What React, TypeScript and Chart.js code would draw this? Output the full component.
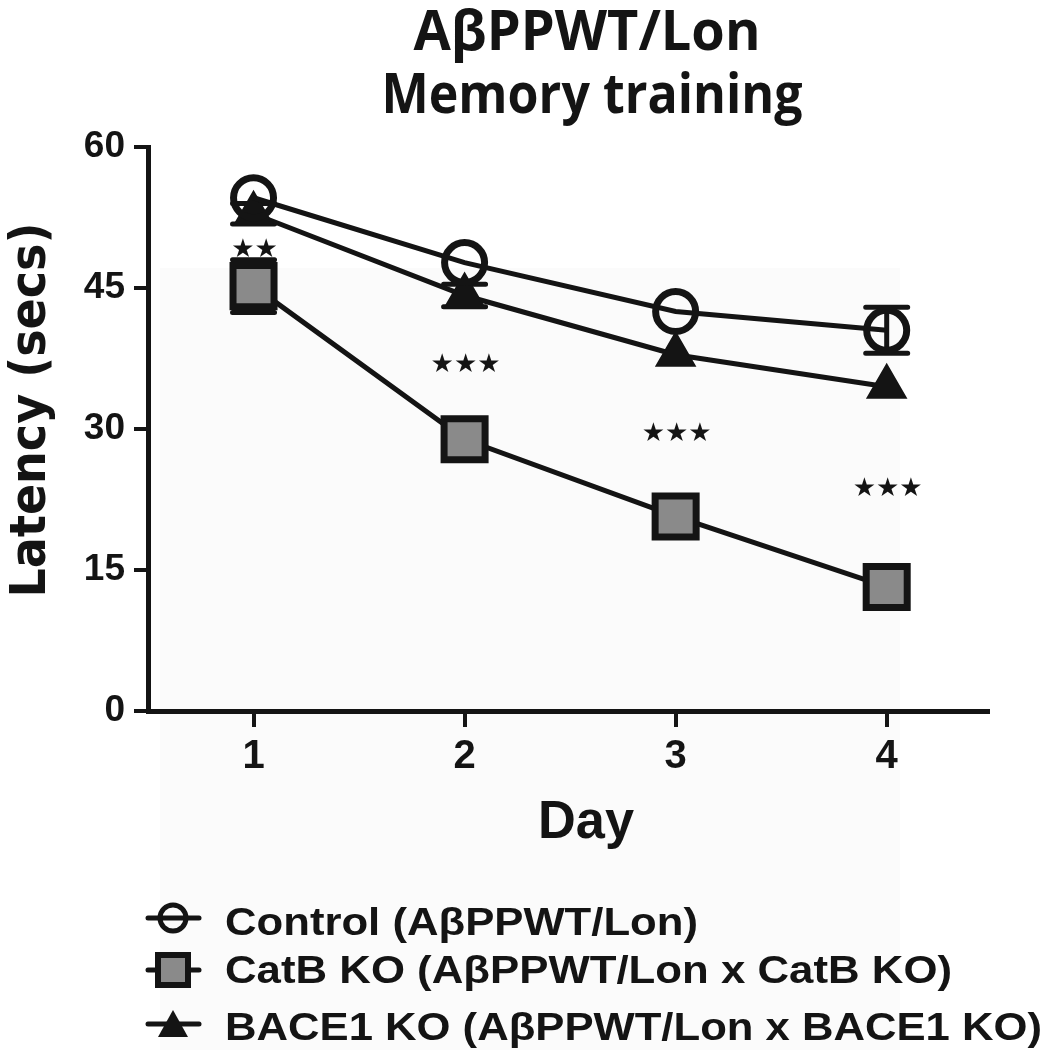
import React, { useEffect, useRef } from 'react';
import { Chart, registerables } from 'chart.js';

Chart.register(...registerables);

const days = [1, 2, 3, 4];
const dayTickLabels = ['1', '2', '3', '4'];
const yTickValues = [0, 15, 30, 45, 60];

const controlMean = [54.6, 47.7, 42.5, 40.5];
const controlErr = [0, 0, 0, 2.45];
const catbMean = [45.2, 28.9, 20.7, 13.2];
const catbErr = [2.8, 0, 0, 0];
const baceMean = [52.9, 44.2, 37.9, 34.5];
const baceErr = [1.1, 1.2, 0, 0];

const sigLabels = ['★★', '★★★', '★★★', '★★★'];
const sigY = [49.0, 36.8, 29.4, 23.6];

const titleLines = ['AβPPWT/Lon', 'Memory training'];
const xTitle = 'Day';
const yTitle = 'Latency (secs)';
const legendLabels = [
  'Control (AβPPWT/Lon)',
  'CatB KO (AβPPWT/Lon x CatB KO)',
  'BACE1 KO (AβPPWT/Lon x BACE1 KO)',
];

const INK = '#141414';
const GREY = '#8a8a8a';

function fitText(
  ctx: CanvasRenderingContext2D,
  text: string,
  x: number,
  y: number,
  width: number,
  font: string,
  align: CanvasTextAlign
) {
  ctx.save();
  ctx.font = font;
  const w = ctx.measureText(text).width;
  const s = width / w;
  ctx.translate(x, y);
  ctx.scale(s, 1);
  ctx.textAlign = align;
  ctx.textBaseline = 'alphabetic';
  ctx.fillStyle = INK;
  ctx.fillText(text, 0, 0);
  ctx.restore();
}

const bgPlugin = {
  id: 'bgPlugin',
  beforeDraw(chart: any) {
    const ctx = chart.ctx as CanvasRenderingContext2D;
    ctx.save();
    ctx.fillStyle = '#ffffff';
    ctx.fillRect(0, 0, chart.width, chart.height);
    ctx.fillStyle = '#fbfbfb';
    ctx.fillRect(160, 268, 740, 800);
    ctx.restore();
  },
};

const errorBarPlugin = {
  id: 'errorBarPlugin',
  beforeDatasetsDraw(chart: any) {
    const ctx = chart.ctx as CanvasRenderingContext2D;
    const xs = chart.scales.x;
    const ys = chart.scales.y;
    const sets = [
      [controlMean, controlErr],
      [catbMean, catbErr],
      [baceMean, baceErr],
    ];
    ctx.save();
    ctx.strokeStyle = INK;
    ctx.lineWidth = 5;
    ctx.lineCap = 'round';
    sets.forEach(([m, e]) => {
      m.forEach((v, i) => {
        if (!e[i]) return;
        const x = xs.getPixelForValue(days[i]);
        const yt = ys.getPixelForValue(v + e[i]);
        const yb = ys.getPixelForValue(v - e[i]);
        ctx.beginPath();
        ctx.moveTo(x, yt);
        ctx.lineTo(x, yb);
        ctx.moveTo(x - 21, yt);
        ctx.lineTo(x + 21, yt);
        ctx.moveTo(x - 21, yb);
        ctx.lineTo(x + 21, yb);
        ctx.stroke();
      });
    });
    ctx.restore();
  },
};

const annotatePlugin = {
  id: 'annotatePlugin',
  afterDraw(chart: any) {
    const ctx = chart.ctx as CanvasRenderingContext2D;
    const xs = chart.scales.x;
    const ys = chart.scales.y;

    // significance stars
    ctx.save();
    ctx.fillStyle = INK;
    ctx.font = '26px "DejaVu Sans"';
    ctx.textAlign = 'center';
    ctx.textBaseline = 'middle';
    sigLabels.forEach((s, i) => {
      const x = xs.getPixelForValue(days[i]);
      const y = ys.getPixelForValue(sigY[i]);
      ctx.fillText(s, x + 1, y);
    });
    ctx.restore();

    // title
    fitText(ctx, titleLines[0], 587, 50, 347, 'bold 55px "Open Sans"', 'center');
    fitText(ctx, titleLines[1], 592, 113, 421, 'bold 55px "Open Sans"', 'center');

    // x title
    fitText(ctx, xTitle, 586, 838, 96, 'bold 53px "Liberation Sans"', 'center');

    // y title
    ctx.save();
    ctx.translate(45, 410);
    ctx.rotate(-Math.PI / 2);
    fitText(ctx, yTitle, 0, 0, 375, 'bold 50px "DejaVu Sans"', 'center');
    ctx.restore();

    // legend
    const rowsY = [935, 983, 1040];
    const widths = [473, 727, 817];
    legendLabels.forEach((lab, i) => {
      fitText(ctx, lab, 225, rowsY[i], widths[i], 'bold 39px "Liberation Sans"', 'left');
    });
    ctx.save();
    ctx.strokeStyle = INK;
    ctx.lineWidth = 5;
    ctx.lineCap = 'round';
    // row 1: circle with line
    ctx.beginPath();
    ctx.moveTo(148, 918);
    ctx.lineTo(199, 918);
    ctx.stroke();
    ctx.beginPath();
    ctx.arc(173, 918, 13, 0, Math.PI * 2);
    ctx.stroke();
    // row 2: square
    ctx.beginPath();
    ctx.moveTo(148, 970);
    ctx.lineTo(199, 970);
    ctx.stroke();
    ctx.fillStyle = GREY;
    ctx.lineWidth = 6;
    ctx.beginPath();
    ctx.rect(158, 955, 30, 30);
    ctx.fill();
    ctx.stroke();
    // row 3: triangle with line
    ctx.lineWidth = 5;
    ctx.beginPath();
    ctx.moveTo(148, 1024);
    ctx.lineTo(199, 1024);
    ctx.stroke();
    ctx.fillStyle = INK;
    ctx.beginPath();
    ctx.moveTo(173, 1010);
    ctx.lineTo(188, 1037);
    ctx.lineTo(158, 1037);
    ctx.closePath();
    ctx.fill();
    ctx.restore();
  },
};

export default function App() {
  const canvasRef = useRef<HTMLCanvasElement | null>(null);

  useEffect(() => {
    if (!canvasRef.current) return;
    const toPts = (arr: number[]) => arr.map((v, i) => ({ x: days[i], y: v }));
    const chart = new Chart(canvasRef.current, {
      type: 'line',
      data: {
        datasets: [
          {
            label: legendLabels[0],
            data: toPts(controlMean),
            borderColor: INK,
            borderWidth: 5,
            pointStyle: 'circle',
            pointRadius: 20,
            pointBorderWidth: 7,
            pointBackgroundColor: 'rgba(0,0,0,0)',
            pointBorderColor: INK,
            tension: 0,
          },
          {
            label: legendLabels[1],
            data: toPts(catbMean),
            borderColor: INK,
            borderWidth: 5,
            pointStyle: 'rect',
            pointRadius: 29,
            pointBorderWidth: 7,
            pointBackgroundColor: GREY,
            pointBorderColor: INK,
            tension: 0,
          },
          {
            label: legendLabels[2],
            data: toPts(baceMean),
            borderColor: INK,
            borderWidth: 5,
            pointStyle: 'triangle',
            pointRadius: 22,
            pointBorderWidth: 2,
            pointBackgroundColor: INK,
            pointBorderColor: INK,
            tension: 0,
          },
        ],
      },
      options: {
        responsive: false,
        animation: false,
        layout: { padding: { top: 147, right: 55, left: 0, bottom: 0 } },
        plugins: {
          legend: { display: false },
          title: { display: false },
          tooltip: { enabled: false },
        },
        scales: {
          x: {
            type: 'linear',
            min: 0.5,
            max: 4.48,
            afterBuildTicks: (s: any) => {
              s.ticks = days.map((v) => ({ value: v }));
            },
            afterFit: (s: any) => {
              s.height = 339;
            },
            grid: {
              display: true,
              drawOnChartArea: false,
              drawTicks: true,
              tickLength: 16,
              tickWidth: 4,
              tickColor: INK,
              color: INK,
              lineWidth: 4,
            },
            border: { display: true, color: INK, width: 5 },
            ticks: {
              autoSkip: false,
              maxRotation: 0,
              padding: 6,
              color: INK,
              font: { family: '"Liberation Sans"', weight: 'bold', size: 40 },
              callback: (v: any) => {
                const i = days.indexOf(Number(v));
                return i >= 0 ? dayTickLabels[i] : '';
              },
            },
          },
          y: {
            type: 'linear',
            min: 0,
            max: 60,
            afterBuildTicks: (s: any) => {
              s.ticks = yTickValues.map((v) => ({ value: v }));
            },
            afterFit: (s: any) => {
              s.width = 148;
            },
            grid: {
              display: true,
              drawOnChartArea: false,
              drawTicks: true,
              tickLength: 14,
              tickWidth: 4,
              tickColor: INK,
              color: INK,
              lineWidth: 4,
            },
            border: { display: true, color: INK, width: 5 },
            ticks: {
              padding: 9,
              color: INK,
              font: { family: '"Liberation Sans"', weight: 'bold', size: 37 },
              callback: (v: any) => String(v),
            },
          },
        },
      },
      plugins: [bgPlugin, errorBarPlugin, annotatePlugin],
    } as any);
    return () => chart.destroy();
  }, []);

  return (
    <div style={{ position: 'absolute', left: 0, top: 0, width: 1043, height: 1050 }}>
      <canvas ref={canvasRef} width={1043} height={1050} style={{ display: 'block' }} />
    </div>
  );
}
